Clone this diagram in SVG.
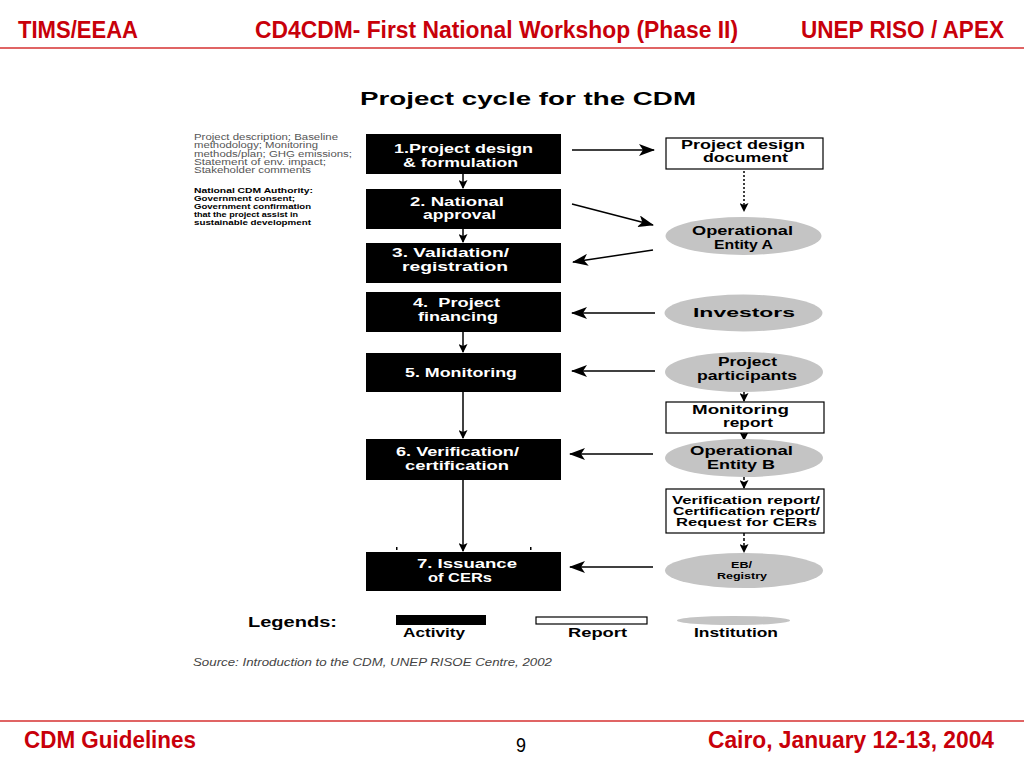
<svg xmlns="http://www.w3.org/2000/svg" width="1024" height="768" viewBox="0 0 1024 768">
<defs>
<style>
text{font-family:"Liberation Sans",Arial,sans-serif}
.hdr{font-size:23px;font-weight:bold;fill:#c8000a}
.ttl{font-size:18px;font-weight:bold;fill:#000}
.note{font-size:8.5px;fill:#555}
.noteb{font-size:7.5px;font-weight:bold;fill:#000}
.act{font-size:13px;font-weight:bold;fill:#fff}
.lbl{font-size:12.5px;font-weight:bold;fill:#000}
.lbls{font-size:10px;font-weight:bold;fill:#000}
.lblx{font-size:9px;font-weight:bold;fill:#000}
.leg{font-size:13px;font-weight:bold;fill:#000}
.src{font-size:10px;font-style:italic;fill:#444}
.actbox{fill:#000}
.rep{fill:#fff;stroke:#000;stroke-width:1.2}
.inst{fill:#c4c4c4}
.ln{fill:none;stroke:#000;stroke-width:1.5}
.dot{fill:none;stroke:#000;stroke-width:1.5;stroke-dasharray:2 2}
.dash{fill:none;stroke:#000;stroke-width:1.5;stroke-dasharray:3 2}
.rule{stroke:#e06464;stroke-width:2}
</style>
<marker id="big" markerUnits="userSpaceOnUse" markerWidth="16" markerHeight="12" refX="15" refY="6" orient="auto">
<path d="M0,0 L16,6 L0,12 L4,6 Z" fill="#000"/>
</marker>
<marker id="sm" markerUnits="userSpaceOnUse" markerWidth="9" markerHeight="9" refX="8" refY="4.5" orient="auto">
<path d="M0,0 L9,4.5 L0,9 L2,4.5 Z" fill="#000"/>
</marker>
</defs>
<rect width="1024" height="768" fill="#fff"/>

<g id="header">
<text class="hdr" x="18" y="38" textLength="120" lengthAdjust="spacingAndGlyphs">TIMS/EEAA</text>
<text class="hdr" x="255" y="38" textLength="483" lengthAdjust="spacingAndGlyphs">CD4CDM- First National Workshop (Phase II)</text>
<text class="hdr" x="801" y="38" textLength="203" lengthAdjust="spacingAndGlyphs">UNEP RISO / APEX</text>
<line class="rule" x1="0" y1="48" x2="1024" y2="48"/>
</g>

<g id="footer">
<line class="rule" x1="0" y1="721" x2="1024" y2="721"/>
<text class="hdr" x="24" y="748" textLength="172" lengthAdjust="spacingAndGlyphs">CDM Guidelines</text>
<text x="516" y="752" font-size="20" fill="#000" textLength="10" lengthAdjust="spacingAndGlyphs">9</text>
<text class="hdr" x="708" y="748" textLength="286" lengthAdjust="spacingAndGlyphs">Cairo, January 12-13, 2004</text>
</g>

<text class="ttl" x="360" y="105" textLength="336" lengthAdjust="spacingAndGlyphs">Project cycle for the CDM</text>

<g id="notes">
<text class="note" x="194" y="140" textLength="144" lengthAdjust="spacingAndGlyphs">Project description; Baseline</text>
<text class="note" x="194" y="148.3" textLength="124" lengthAdjust="spacingAndGlyphs">methodology; Monitoring</text>
<text class="note" x="194" y="156.6" textLength="158" lengthAdjust="spacingAndGlyphs">methods/plan; GHG emissions;</text>
<text class="note" x="194" y="165" textLength="132" lengthAdjust="spacingAndGlyphs">Statement of env. impact;</text>
<text class="note" x="194" y="173.3" textLength="117" lengthAdjust="spacingAndGlyphs">Stakeholder comments</text>
<text class="noteb" x="194" y="193" textLength="119" lengthAdjust="spacingAndGlyphs">National CDM Authority:</text>
<text class="noteb" x="194" y="201" textLength="101" lengthAdjust="spacingAndGlyphs">Government consent;</text>
<text class="noteb" x="194" y="209" textLength="117" lengthAdjust="spacingAndGlyphs">Government confirmation</text>
<text class="noteb" x="194" y="217" textLength="104" lengthAdjust="spacingAndGlyphs">that the project assist in</text>
<text class="noteb" x="194" y="225" textLength="117" lengthAdjust="spacingAndGlyphs">sustainable development</text>
</g>

<g id="connectors">
<path class="ln" d="M463,174 V188" marker-end="url(#sm)"/>
<path class="ln" d="M463,229 V242" marker-end="url(#sm)"/>
<path class="ln" d="M463,332 V352" marker-end="url(#sm)"/>
<path class="ln" d="M463,392 V438" marker-end="url(#sm)"/>
<path class="ln" d="M463,480 V551" marker-end="url(#sm)"/>
<path class="dot" d="M744,171 V211" marker-end="url(#sm)"/>
<path class="ln" d="M744,392 V401" marker-end="url(#sm)"/>
<path class="ln" d="M744,433 V440" marker-end="url(#sm)"/>
<path class="dash" d="M744,477 V488" marker-end="url(#sm)"/>
<path class="dash" d="M744,533 V552" marker-end="url(#sm)"/>
<path class="ln" d="M572,150 L654,150" marker-end="url(#big)"/>
<path class="ln" d="M572,204 L653,225" marker-end="url(#big)"/>
<path class="ln" d="M653,250 L573,262" marker-end="url(#big)"/>
<path class="ln" d="M655,313 L572,313" marker-end="url(#big)"/>
<path class="ln" d="M655,371 L572,371" marker-end="url(#big)"/>
<path class="ln" d="M653,454 L570,454" marker-end="url(#big)"/>
<path class="ln" d="M653,567 L570,567" marker-end="url(#big)"/>
<rect x="396" y="547" width="1.5" height="3" fill="#000"/>
<rect x="530" y="547" width="1.5" height="3" fill="#000"/>
</g>

<g id="act1"><rect class="actbox" x="366" y="134" width="195" height="40"/>
<text class="act" x="394" y="153" textLength="139" lengthAdjust="spacingAndGlyphs">1.Project design</text>
<text class="act" x="403" y="167" textLength="115" lengthAdjust="spacingAndGlyphs">&amp; formulation</text></g>
<g id="act2"><rect class="actbox" x="366" y="189" width="195" height="40"/>
<text class="act" x="410" y="206" textLength="94" lengthAdjust="spacingAndGlyphs">2. National</text>
<text class="act" x="423" y="219" textLength="73" lengthAdjust="spacingAndGlyphs">approval</text></g>
<g id="act3"><rect class="actbox" x="366" y="243" width="195" height="40"/>
<text class="act" x="392" y="257" textLength="117" lengthAdjust="spacingAndGlyphs">3. Validation/</text>
<text class="act" x="402" y="271" textLength="106" lengthAdjust="spacingAndGlyphs">registration</text></g>
<g id="act4"><rect class="actbox" x="366" y="292" width="195" height="40"/>
<text class="act" x="413" y="307" textLength="87" lengthAdjust="spacingAndGlyphs" xml:space="preserve">4.  Project</text>
<text class="act" x="418" y="321" textLength="80" lengthAdjust="spacingAndGlyphs">financing</text></g>
<g id="act5"><rect class="actbox" x="366" y="353" width="195" height="39"/>
<text class="act" x="405" y="377" textLength="112" lengthAdjust="spacingAndGlyphs">5. Monitoring</text></g>
<g id="act6"><rect class="actbox" x="366" y="439" width="195" height="41"/>
<text class="act" x="396" y="456" textLength="123" lengthAdjust="spacingAndGlyphs">6. Verification/</text>
<text class="act" x="405" y="470" textLength="104" lengthAdjust="spacingAndGlyphs">certification</text></g>
<g id="act7"><rect class="actbox" x="366" y="552" width="195" height="39"/>
<text class="act" x="417" y="568" textLength="100" lengthAdjust="spacingAndGlyphs">7. Issuance</text>
<text class="act" x="428" y="582" textLength="64" lengthAdjust="spacingAndGlyphs">of CERs</text></g>

<g id="pdd"><rect class="rep" x="666" y="138" width="157" height="31"/>
<text class="lbl" x="681" y="149" textLength="124" lengthAdjust="spacingAndGlyphs">Project design</text>
<text class="lbl" x="703" y="162" textLength="85" lengthAdjust="spacingAndGlyphs">document</text></g>
<g id="oea"><ellipse class="inst" cx="743.5" cy="236" rx="78" ry="19"/>
<text class="lbl" x="692" y="235" textLength="101" lengthAdjust="spacingAndGlyphs">Operational</text>
<text class="lbl" x="714" y="249" textLength="59" lengthAdjust="spacingAndGlyphs">Entity A</text></g>
<g id="investors"><ellipse class="inst" cx="743.5" cy="313" rx="79" ry="18.5"/>
<text class="lbl" x="693" y="317" textLength="102" lengthAdjust="spacingAndGlyphs">Investors</text></g>
<g id="pp"><ellipse class="inst" cx="744" cy="372" rx="79" ry="20"/>
<text class="lbl" x="718" y="366" textLength="59" lengthAdjust="spacingAndGlyphs">Project</text>
<text class="lbl" x="697" y="380" textLength="100" lengthAdjust="spacingAndGlyphs">participants</text></g>
<g id="mr"><rect class="rep" x="666" y="402" width="158" height="31"/>
<text class="lbl" x="692" y="414" textLength="97" lengthAdjust="spacingAndGlyphs">Monitoring</text>
<text class="lbl" x="723" y="427" textLength="50" lengthAdjust="spacingAndGlyphs">report</text></g>
<g id="oeb"><ellipse class="inst" cx="744" cy="458" rx="79" ry="19"/>
<text class="lbl" x="690" y="455" textLength="103" lengthAdjust="spacingAndGlyphs">Operational</text>
<text class="lbl" x="707" y="469" textLength="68" lengthAdjust="spacingAndGlyphs">Entity B</text></g>
<g id="vr"><rect class="rep" x="666" y="489" width="158" height="44"/>
<text class="lbls" x="672" y="504" textLength="148" lengthAdjust="spacingAndGlyphs">Verification report/</text>
<text class="lbls" x="673" y="515" textLength="147" lengthAdjust="spacingAndGlyphs">Certification report/</text>
<text class="lbls" x="676" y="526" textLength="141" lengthAdjust="spacingAndGlyphs">Request for CERs</text></g>
<g id="eb"><ellipse class="inst" cx="744" cy="570.5" rx="79" ry="17.5"/>
<text class="lblx" x="731" y="568" textLength="21" lengthAdjust="spacingAndGlyphs">EB/</text>
<text class="lblx" x="717" y="579" textLength="50" lengthAdjust="spacingAndGlyphs">Registry</text></g>

<g id="legend">
<text x="248" y="627" font-size="15" font-weight="bold" fill="#000" textLength="89" lengthAdjust="spacingAndGlyphs">Legends:</text>
<rect class="actbox" x="396" y="615" width="90" height="10"/>
<text class="leg" x="403" y="637" textLength="62" lengthAdjust="spacingAndGlyphs">Activity</text>
<rect class="rep" x="536" y="617" width="111" height="7"/>
<text class="leg" x="568" y="637" textLength="59" lengthAdjust="spacingAndGlyphs">Report</text>
<ellipse class="inst" cx="733.5" cy="620.5" rx="56.5" ry="4.5"/>
<text class="leg" x="694" y="637" textLength="84" lengthAdjust="spacingAndGlyphs">Institution</text>
</g>

<text class="src" x="193" y="666" textLength="359" lengthAdjust="spacingAndGlyphs">Source: Introduction to the CDM, UNEP RISOE Centre, 2002</text>
</svg>
